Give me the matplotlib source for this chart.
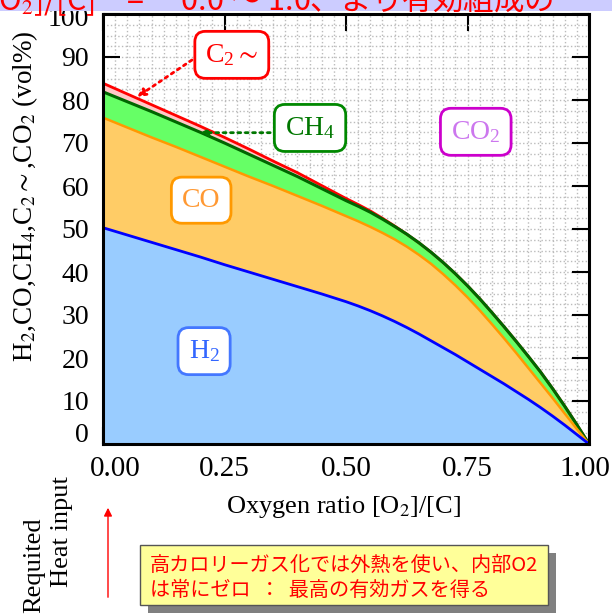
import matplotlib
matplotlib.use('Agg')
import matplotlib.pyplot as plt
import matplotlib.patches as patches
from matplotlib.ticker import MultipleLocator
from matplotlib.transforms import ScaledTranslation
import numpy as np

plt.rcParams['font.family'] = ['Liberation Serif', 'DejaVu Serif']
plt.rcParams['mathtext.fontset'] = 'stix'

# oxygen ratio [O2]/[C]
x_ratio = [0.00, 0.05, 0.10, 0.15, 0.20, 0.25, 0.30, 0.35, 0.40, 0.45, 0.50,
           0.525, 0.55, 0.575, 0.60, 0.625, 0.65, 0.675, 0.70, 0.725, 0.75,
           0.775, 0.80, 0.825, 0.85, 0.875, 0.90, 0.925, 0.95, 0.975, 1.00]
# gas composition, vol% (stacked from bottom)
h2 = [50.3, 48.6, 46.9, 45.2, 43.5, 41.7, 40.0, 38.3, 36.6, 34.9, 33.1,
      32.1, 31.0, 29.8, 28.5, 27.1, 25.6, 24.0, 22.4, 20.8, 19.1,
      17.4, 15.7, 14.0, 12.2, 10.4, 8.5, 6.5, 4.4, 2.2, 0.0]
co = [25.6, 25.0, 24.4, 23.9, 23.3, 22.8, 22.2, 21.7, 21.1, 20.5, 19.9,
      19.7, 19.5, 19.3, 19.1, 18.8, 18.4, 17.9, 17.1, 16.1, 15.0,
      13.7, 12.2, 10.6, 9.0, 7.3, 5.7, 4.2, 2.7, 1.3, 0.0]
ch4 = [6.0, 6.0, 6.0, 5.8, 5.7, 5.5, 5.2, 4.8, 4.5, 4.0, 3.6,
       3.5, 3.4, 3.2, 3.0, 2.9, 2.8, 2.7, 2.7, 2.7, 2.7,
       2.7, 2.7, 2.7, 2.7, 2.7, 2.6, 2.2, 1.7, 1.0, 0.0]
c2 = [2.0, 1.8, 1.6, 1.5, 1.4, 1.3, 1.2, 1.0, 0.9, 0.7, 0.5,
      0.4, 0.3, 0.2, 0.1, 0.0, 0.0, 0.0, 0.0, 0.0, 0.0,
      0.0, 0.0, 0.0, 0.0, 0.0, 0.0, 0.0, 0.0, 0.0, 0.0]

x_ticks = [0.0, 0.25, 0.5, 0.75, 1.0]
x_ticklabels = ['0.00', '0.25', '0.50', '0.75', '1.00']

fill_colors = ['#99CCFF', '#FFCC66', '#66FF66', '#FFC8C8']
line_colors = ['#0000FF', '#FF9900', '#006600', '#FF0000']

fig = plt.figure(figsize=(6.12, 6.15), dpi=100)

# lavender strip with the cut-off heading (drawn over the axes labels)
fig.patches.append(patches.Rectangle((0, 1 - 11 / 615), 1, 11 / 615, transform=fig.transFigure,
                                     facecolor='#CCCCFF', edgecolor='none', zorder=10))
fig.text(-0.02, 1 - 10.5 / 615, '[O$_2$]/[C]　=　 0.0 〜 1.0、より有効組成の',
         color='#FF0000', fontsize=22, family=['Noto Sans CJK JP', 'DejaVu Sans'],
         va='baseline', ha='left', zorder=11)

ax = fig.add_axes([103 / 612, 1 - 444 / 615, 486 / 612, 430 / 615])

ax.stackplot(x_ratio, h2, co, ch4, c2, colors=fill_colors, zorder=2)
tops = np.cumsum([h2, co, ch4, c2], axis=0)
ax.plot(x_ratio, tops[3], color=line_colors[3], lw=2, zorder=3)
ax.plot(x_ratio, tops[2], color=line_colors[2], lw=2.2, zorder=4)
ax.plot(x_ratio, tops[1], color=line_colors[1], lw=1.8, zorder=4)
ax.plot(x_ratio, tops[0], color=line_colors[0], lw=2, zorder=4)

ax.set_xlim(0, 1)
ax.set_ylim(0, 100)
ax.set_xticks(x_ticks, x_ticklabels)
ax.set_yticks(range(0, 101, 10))
ax.xaxis.set_minor_locator(MultipleLocator(0.025))
ax.yaxis.set_minor_locator(MultipleLocator(2.5))
ax.grid(which='both', color='#BBBBBB', linestyle=':', linewidth=1)
ax.set_axisbelow(True)
ax.tick_params(which='major', direction='in', length=12, width=1.5,
               top=True, right=True, labelsize=21, pad=9)
ax.tick_params(axis='y', labelsize=20, pad=10)
ax.tick_params(which='minor', length=0)
for s in ax.spines.values():
    s.set_linewidth(2.2)
    s.set_zorder(6)

# corner labels are nudged apart in the original
def nudge(lbl, dx, dy):
    lbl.set_transform(lbl.get_transform() + ScaledTranslation(dx / 100, dy / 100, fig.dpi_scale_trans))

nudge(ax.xaxis.get_major_ticks()[0].label1, 12, 0)
nudge(ax.xaxis.get_major_ticks()[-1].label1, -4, 0)
nudge(ax.yaxis.get_major_ticks()[0].label1, 0, 12)
nudge(ax.yaxis.get_major_ticks()[-1].label1, 0, -3)

# labels in rounded boxes
def label(x, y, txt, tc, ec):
    ax.text(x, y, txt, color=tc, fontsize=20, ha='center', va='center', zorder=7,
            bbox=dict(boxstyle='round,pad=0.38', fc='white', ec=ec, lw=2))

label(0.265, 90.5, r'$\mathregular{C_2}\sim$', '#FF0000', '#FF0000')
label(0.426, 73.5, r'$\mathregular{CH_4}$', '#007700', '#008800')
label(0.767, 72.6, r'$\mathregular{CO_2}$', '#CC77EE', '#CC00CC')
label(0.202, 56.7, 'CO', '#FF9933', '#FF9900')
label(0.208, 21.6, r'$\mathregular{H_2}$', '#3366FF', '#4477FF')

ax.annotate('', xy=(0.070, 80.7), xytext=(0.183, 89.3), zorder=7,
            arrowprops=dict(arrowstyle='-|>', linestyle=':', color='#FF0000', lw=2,
                            mutation_scale=12, shrinkA=0, shrinkB=0))
ax.annotate('', xy=(0.20, 72.4), xytext=(0.344, 72.4), zorder=7,
            arrowprops=dict(arrowstyle='-|>', linestyle=':', color='#007700', lw=2,
                            mutation_scale=10, shrinkA=0, shrinkB=0))

fig.text(25 / 612, 1 - 196 / 615, r'H$_2$,CO,CH$_4$,C$_2\sim$,CO$_2$ (vol%)',
         rotation=90, fontsize=19.5, ha='center', va='center')
fig.text(343 / 612, 1 - 507 / 615, r'Oxygen ratio [O$_2$]/[C]', fontsize=19,
         ha='center', va='center')

# required heat input note
fig.text(34 / 612, 1 - 565 / 615, 'Requited', rotation=90, fontsize=19,
         ha='center', va='center')
fig.text(62 / 612, 1 - 532 / 615, 'Heat input', rotation=90, fontsize=19,
         ha='center', va='center')
fig.patches.append(patches.FancyArrowPatch((108 / 612, 1 - 600 / 615), (108 / 612, 1 - 505 / 615),
                                           transform=fig.transFigure, arrowstyle='-|>',
                                           mutation_scale=12, color='#FF0000', lw=1))

# yellow note with shadow
fig.patches.append(patches.Rectangle((148 / 612, 1 - 613 / 615), 408 / 612, 60 / 615,
                                     transform=fig.transFigure, facecolor='#808080',
                                     edgecolor='none'))
fig.patches.append(patches.Rectangle((140 / 612, 1 - 605 / 615), 408 / 612, 60 / 615,
                                     transform=fig.transFigure, facecolor='#FFFF99',
                                     edgecolor='#555555', lw=1))
jp = ['Noto Sans CJK JP', 'DejaVu Sans']
fig.text(150 / 612, 1 - 565 / 615, '高カロリーガス化では外熱を使い、内部O2', color='#FF0000',
         fontsize=14.5, family=jp, ha='left', va='center')
fig.text(150 / 612, 1 - 590 / 615, 'は常にゼロ  ：  最高の有効ガスを得る', color='#FF0000',
         fontsize=14.5, family=jp, ha='left', va='center')

fig.savefig('out.png', dpi=100)
